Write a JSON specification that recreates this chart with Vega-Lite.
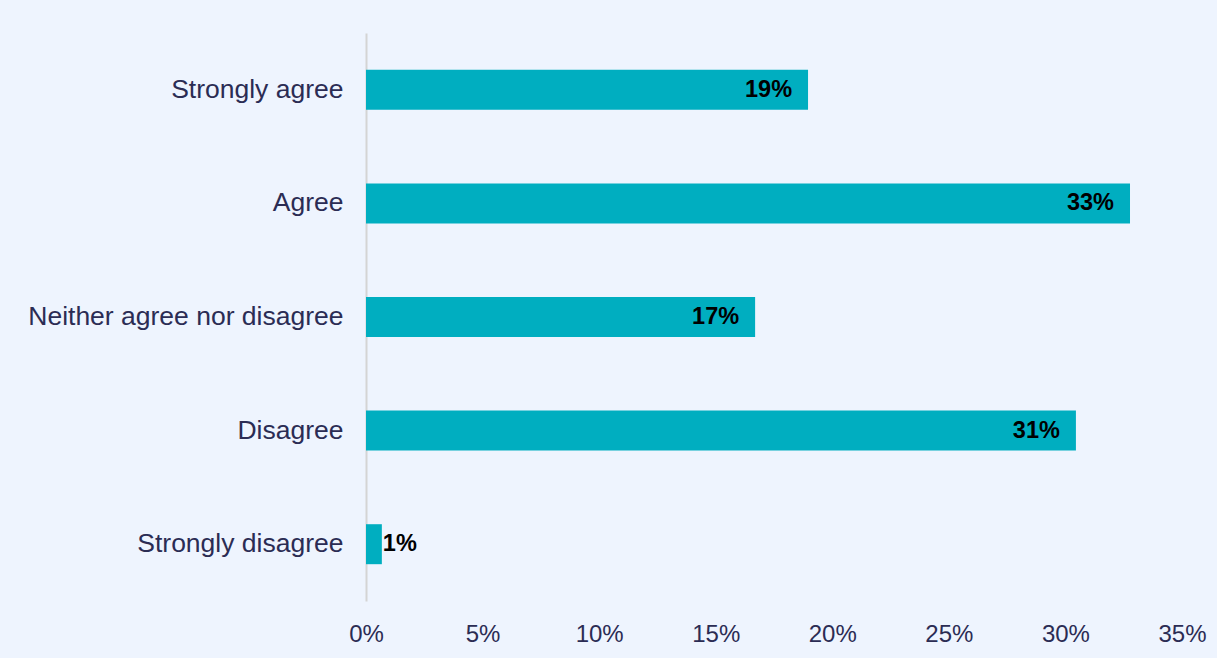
{
  "$schema": "https://vega.github.io/schema/vega-lite/v6.json",
  "autosize": "none",
  "width": 816,
  "height": 568,
  "padding": {"left": 366, "top": 33, "right": 35, "bottom": 57},
  "background": "#EEF4FE",
  "config": {
    "view": {"stroke": null},
    "font": "Liberation Sans"
  },
  "data": {
    "values": [
      {"response": "Strongly agree", "value": 18.96, "label": "19%"},
      {"response": "Agree", "value": 32.77, "label": "33%"},
      {"response": "Neither agree nor disagree", "value": 16.69, "label": "17%"},
      {"response": "Disagree", "value": 30.45, "label": "31%"},
      {"response": "Strongly disagree", "value": 0.68, "label": "1%"}
    ]
  },
  "encoding": {
    "y": {
      "field": "response",
      "type": "nominal",
      "sort": null,
      "scale": {"paddingInner": 0.648, "paddingOuter": 0.324},
      "axis": {
        "title": null,
        "domainColor": "#D4D4D4",
        "domainWidth": 2,
        "ticks": false,
        "labelPadding": 23,
        "labelFontSize": 26.5,
        "labelColor": "#2B2C54",
        "labelFont": "Liberation Sans",
        "labelLimit": 0
      }
    },
    "x": {
      "field": "value",
      "type": "quantitative",
      "scale": {"domain": [0, 35], "nice": false},
      "axis": {
        "title": null,
        "values": [0, 5, 10, 15, 20, 25, 30, 35],
        "labelExpr": "datum.value + '%'",
        "domain": false,
        "ticks": false,
        "grid": false,
        "labelPadding": 21,
        "labelFontSize": 24,
        "labelColor": "#2B2C54",
        "labelFont": "Liberation Sans",
        "labelFlush": false
      }
    }
  },
  "layer": [
    {"mark": {"type": "bar", "color": "#00AEC0"}},
    {
      "transform": [{"filter": "datum.value > 5"}],
      "mark": {"type": "text", "align": "right", "baseline": "middle", "dx": -16, "fontSize": 23.5, "fontWeight": "bold", "color": "#000000", "font": "Liberation Sans"},
      "encoding": {"text": {"field": "label"}}
    },
    {
      "transform": [{"filter": "datum.value <= 5"}],
      "mark": {"type": "text", "align": "left", "baseline": "middle", "dx": 1, "fontSize": 23.5, "fontWeight": "bold", "color": "#000000", "font": "Liberation Sans"},
      "encoding": {"text": {"field": "label"}}
    }
  ]
}
